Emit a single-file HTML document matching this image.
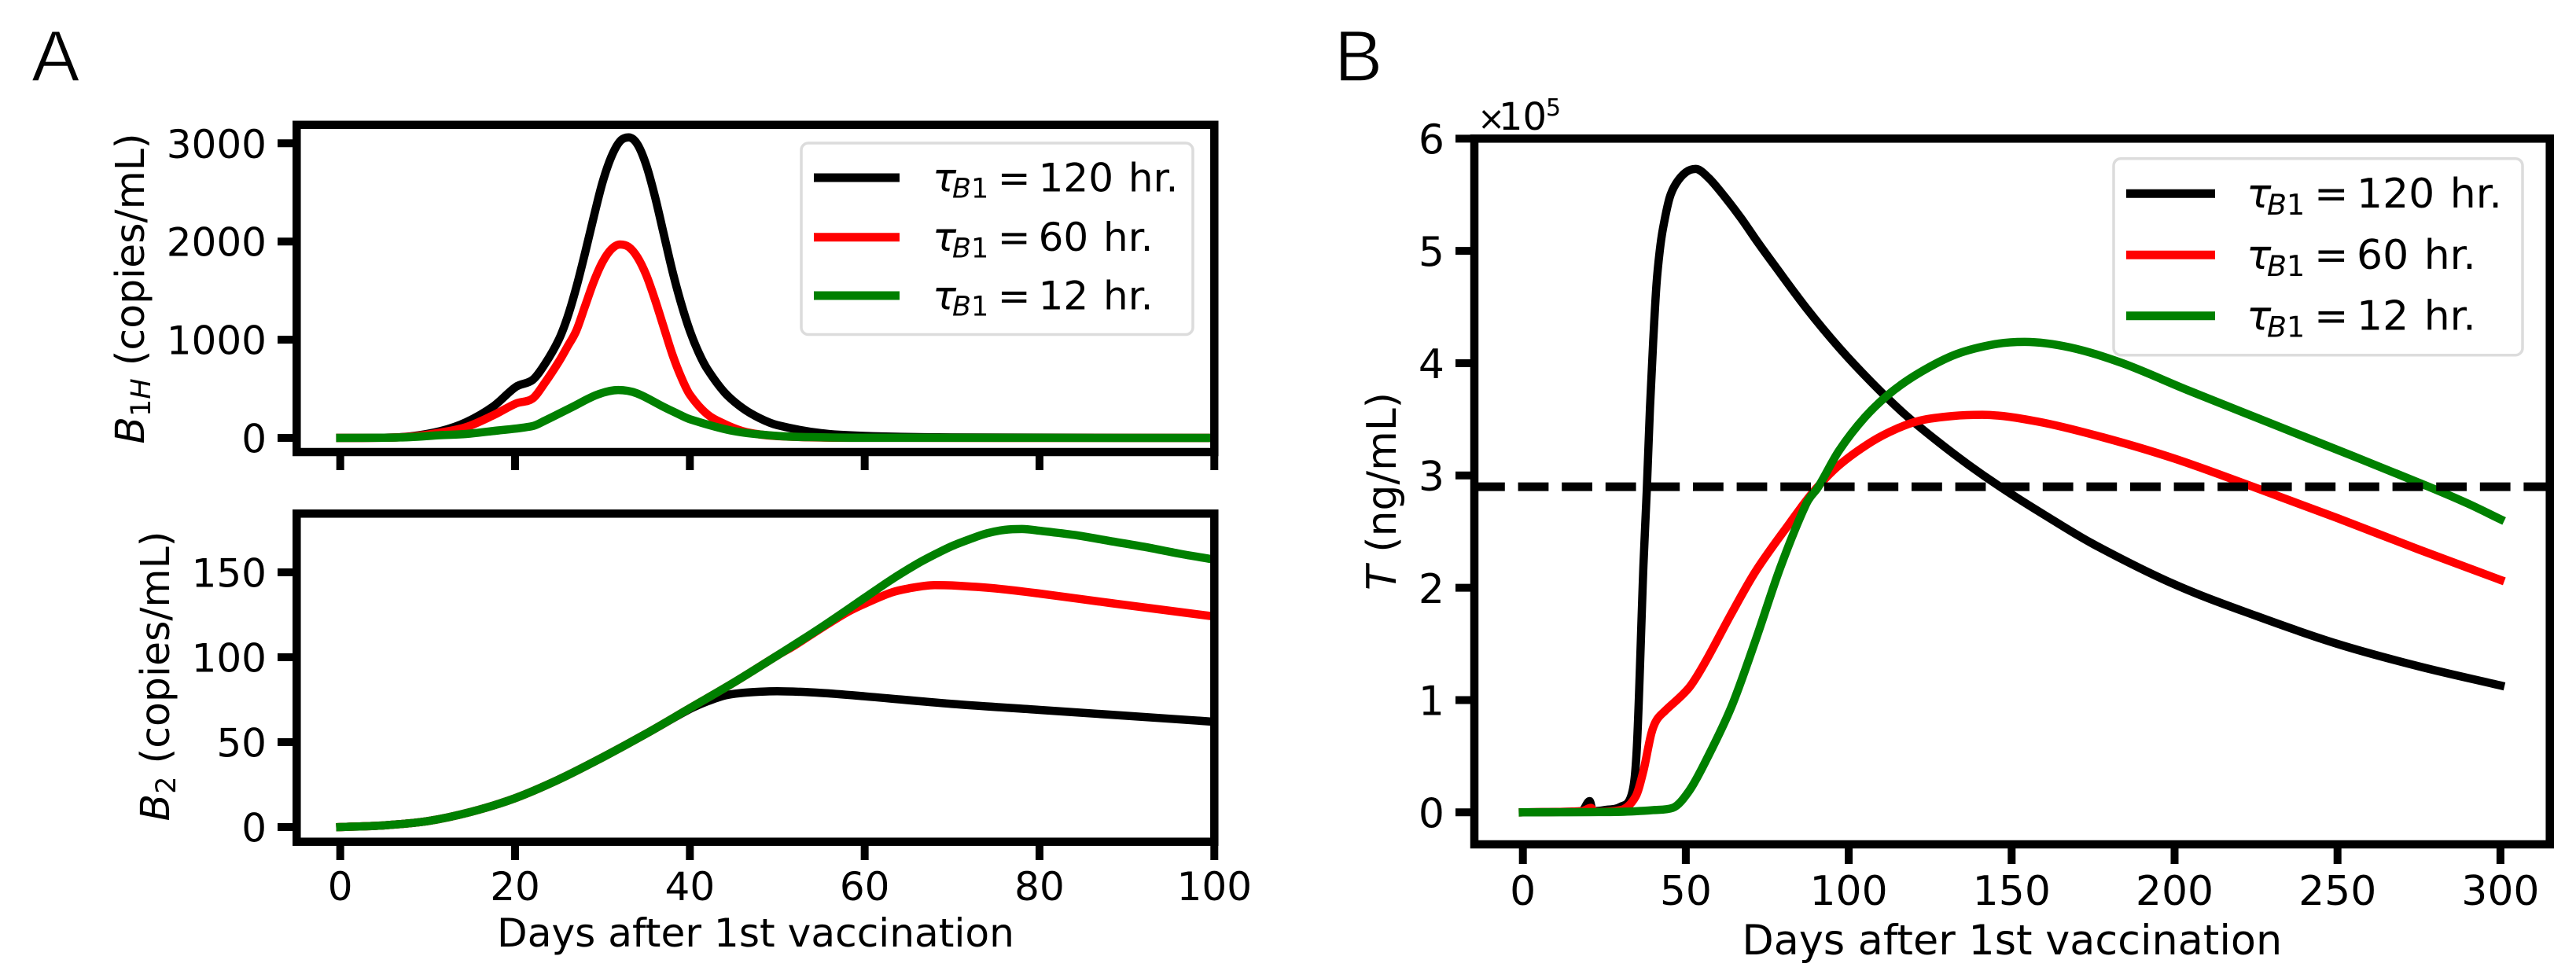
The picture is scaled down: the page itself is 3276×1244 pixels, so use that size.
<!DOCTYPE html>
<html lang="en">
<head>
<meta charset="utf-8">
<title>Antibody and T-cell dynamics after vaccination</title>
<style>
html,body{margin:0;padding:0;background:#fff;}
svg{display:block;}
text{font-family:"DejaVu Sans","Liberation Sans",sans-serif;fill:#000;}
</style>
</head>
<body>
<svg id="fig" xmlns="http://www.w3.org/2000/svg" width="3276" height="1244" viewBox="0 0 3276 1244">
  <rect width="3276" height="1244" fill="#fff"/>
  <defs>
    <clipPath id="clipA1"><rect x="377" y="158" width="1167.5" height="417"/></clipPath>
    <clipPath id="clipA2"><rect x="377" y="653" width="1167.5" height="418"/></clipPath>
    <clipPath id="clipB"><rect x="1875" y="176" width="1368" height="898"/></clipPath>
  </defs>
  <text x="40" y="103" font-size="92" style="font-family:'Liberation Sans',sans-serif;stroke:#fff;stroke-width:1.5px;">A</text>
  <text x="1697" y="103" font-size="92" style="font-family:'Liberation Sans',sans-serif;stroke:#fff;stroke-width:1.5px;">B</text>

  <text transform="translate(183,367) rotate(-90)" text-anchor="middle" font-size="50.5"><tspan font-style="italic">B</tspan><tspan dy="8" font-size="35">1</tspan><tspan font-size="35" font-style="italic">H</tspan><tspan dy="-8"> (copies/mL)</tspan></text>
  <text transform="translate(215,860) rotate(-90)" text-anchor="middle" font-size="50.5"><tspan font-style="italic">B</tspan><tspan dy="8" font-size="35">2</tspan><tspan dy="-8"> (copies/mL)</tspan></text>
  <text transform="translate(1775,625) rotate(-90)" text-anchor="middle" font-size="52"><tspan font-style="italic">T</tspan> (ng/mL)</text>
  <text x="961" y="1204" text-anchor="middle" font-size="50.2">Days after 1st vaccination</text>
  <text x="2558.8" y="1214" text-anchor="middle" font-size="52.4">Days after 1st vaccination</text>
  <text font-size="48"><tspan x="1879" y="165" font-size="42">×</tspan><tspan x="1906" y="165">10</tspan><tspan x="1966" y="147" font-size="30">5</tspan></text>
</svg>
<script>
// ---- Panel A top: B1H (copies/mL) ----
const b1hBlackDays = [0,5,8,11.5,14.4,17.5,20.1,22,23.4,25,26,27,28,29,30,31,32,33,34,35,36,37,38,39,40,41,42,44,46,48,50,55,60,70,100];
const b1hBlack = [0,2,15,70,160,320,520,590,750,1000,1230,1530,1880,2250,2600,2860,3020,3060,2990,2780,2460,2080,1700,1370,1090,870,700,460,305,200,130,48,20,5,0];
const b1hRedDays = [0,5,8,11.5,14.4,17.5,20.1,22,23.4,25,26,27,28,29,30,31,32,33,34,35,36,37,38,39,40,42,44,46,48,50,55,60,100];
const b1hRed = [0,2,12,55,110,230,350,400,560,775,930,1090,1340,1590,1790,1920,1970,1945,1840,1660,1410,1130,850,620,440,240,140,70,35,18,4,1,0];
const b1hGreenDays = [0,5,8,11.5,14.4,17.5,22,23.4,26.4,29.4,31.8,33.9,36.9,38.4,40,45,50,55,60,100];
const b1hGreen = [0,2,8,28,40,70,120,175,308,440,487,455,320,255,190,70,20,6,2,0];
const b1hTicks = [0,1000,2000,3000];

// ---- Panel A bottom: B2 (copies/mL) ----
const b2BlackDays = [0,5,10,15,20,25,30,35,40,42,44,46,48,50,55,60,70,80,90,100];
const b2Black = [0,1,3.5,9,17,28,41,55,69.5,74,77.5,79,79.7,80,79,77,72.5,69,65.5,62];
const b2RedDays = [0,5,10,15,20,25,30,35,40,45,50,52,55,58,60,63,65,68,70,75,80,88,100];
const b2Red = [0,1,3.5,9,17,28,41,55,70,85,101,107,117,126.5,131.5,138,140.5,142.5,142.3,140.5,137.5,132,124];
const b2GreenDays = [0,5,10,15,20,25,30,35,40,45,50,55,60,63,66,68,70,72,74,76,78,80,84,88,92,96,100];
const b2Green = [0,1,3.5,9,17,28,41,55,70,85,101,117.5,135,145.5,155,160.5,165.5,169.5,173,175,175.5,174.5,172,168.5,165,161,157.5];
const b2Ticks = [0,50,100,150];
const axisADays = [0,20,40,60,80,100];

// ---- Panel B: T (x10^5 ng/mL) ----
const tBlackDays = [0,18,20.5,21.5,25,30,33.4,35,37,38,39,40,41,42,43,45,47,50,53,57,62,67,72,77,87,97,107,117,127,137,148,160,175,200,225,250,275,300];
const tBlack = [0,0.01,0.1,0.01,0.02,0.05,0.16,0.59,2.2,2.85,3.6,4.2,4.7,5.0,5.2,5.47,5.6,5.7,5.73,5.65,5.48,5.29,5.08,4.88,4.49,4.14,3.83,3.55,3.31,3.09,2.87,2.65,2.39,2.03,1.75,1.5,1.3,1.13];
const tRedDays = [0,18,20.9,22,30,34.6,37,39.4,41,43.5,51,56,64,71.5,82,89,97,107,115,122,132,141,158,178,200,224,250,275,300];
const tRed = [0,0.01,0.04,0.005,0.02,0.14,0.37,0.7,0.82,0.9,1.11,1.34,1.77,2.15,2.58,2.85,3.09,3.3,3.42,3.49,3.53,3.54,3.48,3.34,3.15,2.9,2.62,2.34,2.07];
const tGreenDays = [0,30,40,46,51,56,64,71.5,79,87,90.7,97,105,113,122,133,145,154,168,184,204,229,255,278,290,300];
const tGreen = [0,0.005,0.02,0.04,0.19,0.45,0.94,1.54,2.18,2.75,2.9,3.22,3.52,3.74,3.92,4.08,4.17,4.19,4.14,4.0,3.76,3.47,3.17,2.9,2.75,2.61];
const tThresholdValue = [2.9];
const tTicks = [0,1,2,3,4,5,6];
const axisBDays = [0,50,100,150,200,250,300];

// ---- Legend ----
const legendTaus = ['120','60','12'];
const seriesColors = ['#000000','#ff0000','#008000'];

const NS = 'http://www.w3.org/2000/svg';
const fig = document.getElementById('fig');
const LW = 10.5;

const xA = d => 432.7 + 11.116 * d;
const yA1 = v => 557 - 0.1249 * v;
const yA2 = v => 1052 - 2.16 * v;
const xB = d => 1936.7 + 4.144 * d;
const yB = v => 1033.3 - 142.83 * v;

function mk(tag, attrs, parent) {
  const el = document.createElementNS(NS, tag);
  for (const k in attrs) el.setAttribute(k, attrs[k]);
  (parent || fig).appendChild(el);
  return el;
}

function smoothPath(xs, ys) {
  const n = xs.length, dx = [], m = [], t = [];
  for (let i = 0; i < n - 1; i++) { dx[i] = xs[i + 1] - xs[i]; m[i] = (ys[i + 1] - ys[i]) / dx[i]; }
  t[0] = m[0]; t[n - 1] = m[n - 2];
  for (let i = 1; i < n - 1; i++) {
    if (m[i - 1] * m[i] <= 0) t[i] = 0;
    else {
      const c = (ys[i + 1] - ys[i - 1]) / (xs[i + 1] - xs[i - 1]);
      const lim = 3 * Math.min(Math.abs(m[i - 1]), Math.abs(m[i]));
      t[i] = Math.sign(c) * Math.min(Math.abs(c), lim);
    }
  }
  let p = 'M' + xs[0].toFixed(2) + ',' + ys[0].toFixed(2);
  for (let i = 0; i < n - 1; i++) {
    const h = dx[i] / 3;
    p += 'C' + (xs[i] + h).toFixed(2) + ',' + (ys[i] + t[i] * h).toFixed(2) + ' ' +
         (xs[i + 1] - h).toFixed(2) + ',' + (ys[i + 1] - t[i + 1] * h).toFixed(2) + ' ' +
         xs[i + 1].toFixed(2) + ',' + ys[i + 1].toFixed(2);
  }
  return p;
}

function drawSeries(days, vals, xf, yf, color, clip) {
  return mk('path', {
    d: smoothPath(days.map(xf), vals.map(yf)),
    fill: 'none', stroke: color, 'stroke-width': LW,
    'stroke-linecap': 'square', 'stroke-linejoin': 'round', 'clip-path': 'url(#' + clip + ')'
  });
}

let s;
s = drawSeries(b1hBlackDays, b1hBlack, xA, yA1, seriesColors[0], 'clipA1');


s = drawSeries(b1hRedDays, b1hRed, xA, yA1, seriesColors[1], 'clipA1');


s = drawSeries(b1hGreenDays, b1hGreen, xA, yA1, seriesColors[2], 'clipA1');



s = drawSeries(b2BlackDays, b2Black, xA, yA2, seriesColors[0], 'clipA2');


s = drawSeries(b2RedDays, b2Red, xA, yA2, seriesColors[1], 'clipA2');


s = drawSeries(b2GreenDays, b2Green, xA, yA2, seriesColors[2], 'clipA2');



s = drawSeries(tBlackDays, tBlack, xB, yB, seriesColors[0], 'clipB');


s = drawSeries(tRedDays, tRed, xB, yB, seriesColors[1], 'clipB');


s = drawSeries(tGreenDays, tGreen, xB, yB, seriesColors[2], 'clipB');



const thr = mk('line', {
  x1: 1875, x2: 3243, y1: yB(tThresholdValue[0]), y2: yB(tThresholdValue[0]),
  stroke: '#000', 'stroke-width': LW + 0.5, 'stroke-dasharray': '38.8 16.8'
});



function drawFrame(x0, y0, x1, y1, name) {
  const r = mk('rect', { x: x0, y: y0, width: x1 - x0, height: y1 - y0, fill: 'none', stroke: '#000', 'stroke-width': 10.5 });
  
  
}

function xTicks(list, xf, yFrame, yEnd, labelY, size, withLabels, name) {
  list.forEach(d => {
    const t = mk('line', { x1: xf(d), x2: xf(d), y1: yFrame, y2: yEnd, stroke: '#000', 'stroke-width': 10 });
    
    
    if (withLabels) {
      const l = mk('text', { x: xf(d), y: labelY, 'text-anchor': 'middle', 'font-size': size });
      l.textContent = String(d);
      
      
    }
  });
}

function yTicks(list, yf, xFrame, xEnd, labelX, size, name) {
  list.forEach(v => {
    const t = mk('line', { x1: xFrame, x2: xEnd, y1: yf(v), y2: yf(v), stroke: '#000', 'stroke-width': 10 });
    
    
    const l = mk('text', { x: labelX, y: yf(v) + size * 0.37, 'text-anchor': 'end', 'font-size': size });
    l.textContent = String(v);
    
    
  });
}

drawFrame(377.3, 158.8, 1544.3, 575, 'b1h-axes-frame');
drawFrame(377.3, 653.3, 1544.3, 1070.7, 'b2-axes-frame');
drawFrame(1875, 176.3, 3242.7, 1074, 't-axes-frame');

xTicks(axisADays, xA, 575, 598, 0, 50, false, 'b1h-x-axis');
xTicks(axisADays, xA, 1070.7, 1094, 1145, 50, true, 'b2-x-axis');
xTicks(axisBDays, xB, 1074, 1099, 1151, 52, true, 't-x-axis');
yTicks(b1hTicks, yA1, 377, 353, 339, 50, 'b1h-y-axis');
yTicks(b2Ticks, yA2, 377, 353, 339, 50, 'b2-y-axis');
yTicks(tTicks, yB, 1875, 1851, 1837, 52, 't-y-axis');

function drawLegend(x, y, w, h, hx0, hx1, rows, size, tx, name) {
  const g = mk('g', {});
  
  
  mk('rect', { x: x, y: y, width: w, height: h, rx: 9, ry: 9, fill: '#fff', 'fill-opacity': 0.8, stroke: '#dcdcdc', 'stroke-width': 3.5 }, g);
  rows.forEach((ry, i) => {
    const ln = mk('line', { x1: hx0, x2: hx1, y1: ry, y2: ry, stroke: seriesColors[i], 'stroke-width': 11 }, g);
    
    
    const base = ry + size * 0.345;
    const k = size / 52;
    const t = mk('text', { y: base, 'font-size': size }, g);
    
    
    const a = mk('tspan', { x: tx, y: base, 'font-style': 'italic' }, t);
    a.textContent = 'τ';
    const b = mk('tspan', { x: tx + 26 * k, y: base + 8.7 * k, 'font-size': size * 0.7, 'font-style': 'italic' }, t);
    b.textContent = 'B';
    const c = mk('tspan', { y: base + 8.7 * k, 'font-size': size * 0.7 }, t);
    c.textContent = '1';
    const d = mk('tspan', { x: tx + 86 * k, y: base }, t);
    d.textContent = '=';
    const e = mk('tspan', { x: tx + 140 * k, y: base, 'word-spacing': 3 * k }, t);
    e.textContent = legendTaus[i] + ' hr.';
  });
}

drawLegend(1019, 182, 498, 243.5, 1035, 1144, [226, 301.7, 376], 50, 1186, 'legend-a');
drawLegend(2688, 201.7, 520, 250, 2704, 2817, [246.3, 324.3, 401.7], 52, 2857, 'legend-b');
</script>
</body>
</html>
